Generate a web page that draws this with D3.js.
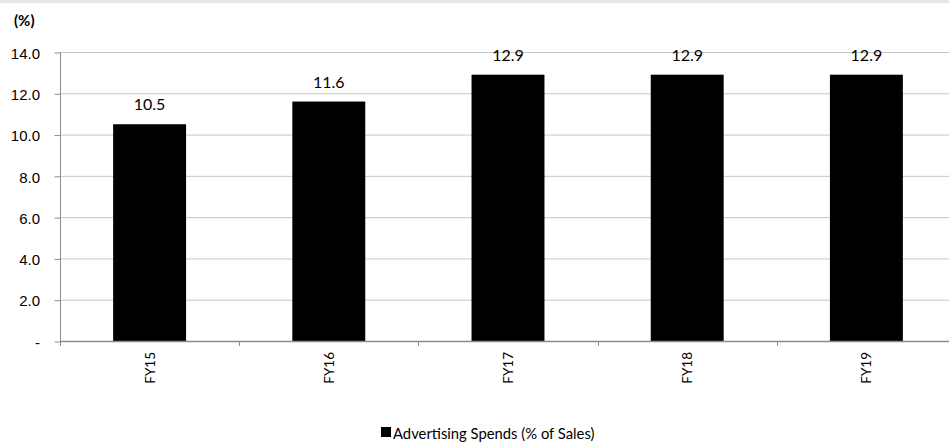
<!DOCTYPE html>
<html>
<head>
<meta charset="utf-8">
<script src="https://cdn.jsdelivr.net/npm/d3@7/dist/d3.min.js"></script>
<style>
  html, body { margin: 0; padding: 0; background: #fff; }
  svg { display: block; font-family: Lato, "Open Sans", "Noto Sans", sans-serif; }
</style>
</head>
<body>
<svg id="chart" width="949" height="445"></svg>
<script>
// Advertising spend as a share of sales, by fiscal year
const categories = ["FY15", "FY16", "FY17", "FY18", "FY19"];
const values = [10.5, 11.6, 12.9, 12.9, 12.9];
const yTicks = [0, 2, 4, 6, 8, 10, 12, 14];
const seriesName = "Advertising Spends (% of Sales)";

(function () {
  const svg = d3.select("#chart");
  const W = 949;
  const plotLeft = 60, plotRight = 956, plotTop = 52, plotBottom = 341;

  // thin grey band across the top
  svg.append("rect").attr("x", 0).attr("y", 0).attr("width", W).attr("height", 3).attr("fill", "#e6e6e6");

  const x = d3.scaleBand().domain(categories).range([plotLeft, plotRight]).paddingInner(0.593).paddingOuter(0.2965);
  const y = d3.scaleLinear().domain([0, 14]).range([plotBottom, plotTop]);

  // horizontal gridlines
  svg.append("g").selectAll("line").data(yTicks.filter(d => d > 0)).join("line")
    .attr("x1", plotLeft).attr("x2", plotRight)
    .attr("y1", d => y(d) + 0.5).attr("y2", d => y(d) + 0.5)
    .attr("stroke", "#c6c6c6").attr("stroke-width", 1);

  // bars
  svg.append("g").selectAll("rect").data(values).join("rect")
    .attr("x", (d, i) => x(categories[i]))
    .attr("width", x.bandwidth())
    .attr("y", d => y(d))
    .attr("height", d => y(0) - y(d))
    .attr("fill", "#000");

  // value labels
  svg.append("g").selectAll("text").data(values).join("text")
    .attr("x", (d, i) => x(categories[i]) + x.bandwidth() / 2)
    .attr("y", d => y(d) - 14)
    .attr("text-anchor", "middle")
    .attr("font-size", 16).attr("fill", "#000")
    .text(d => d.toFixed(1));

  // y axis
  const yAxis = d3.axisLeft(y).tickValues(yTicks).tickSize(6).tickPadding(14.5)
    .tickFormat(d => d === 0 ? "-" : d.toFixed(1));
  const gy = svg.append("g").attr("transform", `translate(${plotLeft + 0.5},0.5)`).call(yAxis);
  gy.select(".domain").attr("stroke", "#8c8c8c").attr("d", `M0,${plotTop}V${plotBottom + 4}`);
  gy.selectAll(".tick line").attr("stroke", "#8c8c8c");
  gy.selectAll(".tick text").attr("font-size", 15).attr("fill", "#000")
    .attr("font-family", null).attr("dy", "0.38em");

  // x axis baseline with ticks at category boundaries
  const bounds = d3.range(categories.length + 1).map(i => plotLeft + i * x.step());
  svg.append("line").attr("x1", plotLeft).attr("x2", plotRight)
    .attr("y1", plotBottom + 0.5).attr("y2", plotBottom + 0.5)
    .attr("stroke", "#8c8c8c").attr("stroke-width", 1.5);
  svg.append("g").selectAll("line").data(bounds).join("line")
    .attr("x1", d => Math.round(d) + 0.5).attr("x2", d => Math.round(d) + 0.5)
    .attr("y1", plotBottom).attr("y2", plotBottom + 5)
    .attr("stroke", "#8c8c8c");

  // rotated category labels
  svg.append("g").selectAll("text").data(categories).join("text")
    .attr("transform", d => `translate(${x(d) + x.bandwidth() / 2 + 5},${plotBottom + 11}) rotate(-90)`)
    .attr("text-anchor", "end")
    .attr("font-size", 13.5).attr("fill", "#000")
    .text(d => d);

  // unit label
  svg.append("text").attr("x", 14).attr("y", 26)
    .attr("font-size", 15).attr("font-weight", "bold").attr("fill", "#000")
    .text("(%)");

  // legend
  svg.append("rect").attr("x", 381).attr("y", 427).attr("width", 10).attr("height", 10).attr("fill", "#000");
  svg.append("text").attr("x", 393).attr("y", 439)
    .attr("font-size", 14.8).attr("fill", "#000")
    .text(seriesName);
})();
</script>
</body>
</html>
